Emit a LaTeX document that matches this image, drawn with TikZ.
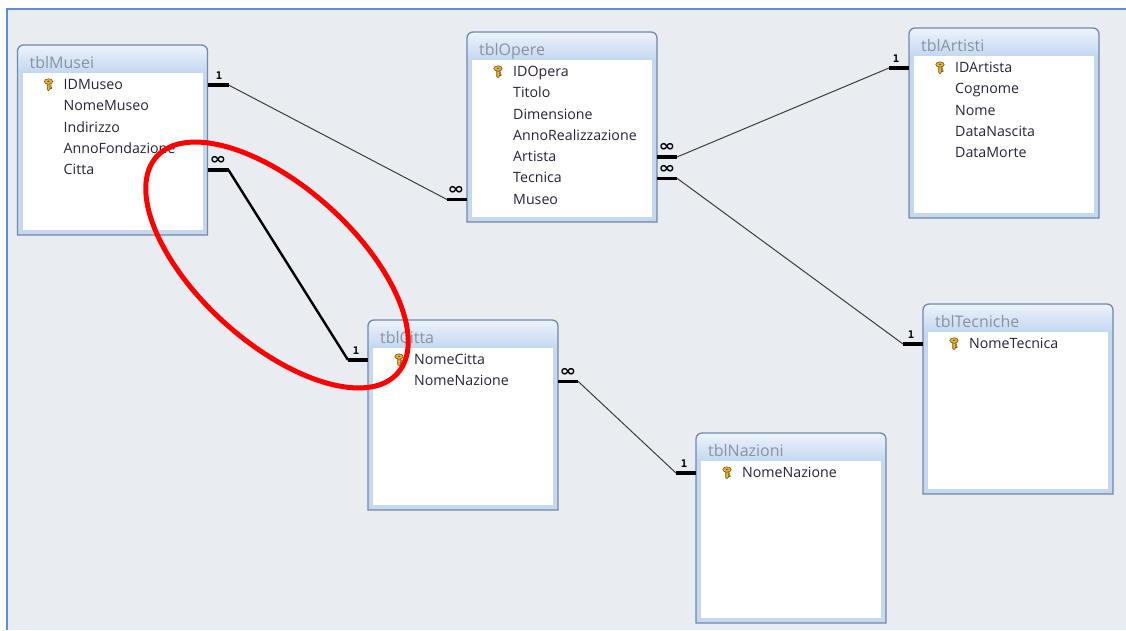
\documentclass[tikz,border=0pt]{standalone}
\usepackage{fontspec}
\newfontfamily\uifont{Open Sans}
\newfontfamily\symfont{DejaVu Sans}
\newfontfamily\labelfont{DejaVu Sans Mono}
\usetikzlibrary{calc}
\definecolor{frameblue}{HTML}{5B8FD8}
\definecolor{canvasbg}{HTML}{E9EDF2}
\definecolor{tblborder}{HTML}{7088AA}
\definecolor{tblband}{HTML}{C6D8F0}
\definecolor{hdrtop}{HTML}{EDF3FB}
\definecolor{hdrbot}{HTML}{C5D8F1}
\definecolor{titlegray}{HTML}{8A93A0}
\definecolor{rowink}{HTML}{2B2236}
\definecolor{keygold}{HTML}{E2B43A}
\definecolor{keyedge}{HTML}{7A5A14}
\definecolor{linkgray}{HTML}{3C3C3C}
\tikzset{
 tblnode/.style={rectangle, minimum width=190pt, minimum height=190pt, inner sep=0, outer sep=0, anchor=north west},
 titletext/.style={anchor=base west, inner sep=0, text=titlegray, font=\uifont\fontsize{16}{16}\selectfont},
 rowtext/.style={anchor=base west, inner sep=0, text=rowink, font=\uifont\fontsize{14.2}{15}\selectfont},
 stub/.style={line width=3.5pt, black},
 thinlink/.style={line width=1pt, linkgray},
 boldlink/.style={line width=2.4pt, black},
 onelabel/.style={font=\labelfont\bfseries\fontsize{10.5}{10.5}\selectfont, inner sep=0, anchor=south},
 manylabel/.style={font=\symfont\bfseries\fontsize{16}{16}\selectfont, inner sep=0, anchor=south, xscale=1.25},
 redring/.style={draw=red, line width=5pt},
}
\newcommand\dbtable[4]{%
 \node[tblnode] (#1) at (#2,#3) {};
 \fill[tblband] (#1.south west) [rounded corners=6pt] -- (#1.north west) -- (#1.north east) [sharp corners] -- (#1.south east) -- cycle;
 \shade[top color=hdrtop, bottom color=hdrbot] ($(#1.north west)+(0,27)$) [rounded corners=6pt] -- (#1.north west) -- (#1.north east) [sharp corners] -- ($(#1.north east)+(0,27)$) -- cycle;
 \fill[white] ($(#1.north west)+(5,28)$) rectangle ($(#1.south east)+(-5,-5)$);
 \draw[tblborder, line width=1.3pt] (#1.south west) [rounded corners=6pt] -- (#1.north west) -- (#1.north east) [sharp corners] -- (#1.south east) -- cycle;
 \node[titletext] (#1title) at ($(#1.north west)+(12,23)$) {#4};
}
\newcommand\dbrow[4]{% table, index, label, row name
 \coordinate (#4) at ($(#1.north west)+(0,{40+21.25*(#2-1)})$);
 \node[rowtext] (#4txt) at ($(#1.north west)+(46,{44.5+21.25*(#2-1)})$) {#3};
}
\newcommand\keyicon[2]{% table, index
 \begin{scope}[shift={($(#1.north west)+(31,{39.5+21.25*(#2-1)})$)}]
  \filldraw[fill=keygold, draw=keyedge, line width=0.6pt] (-1.3,-1) -- (-1.3,5) -- (0,6.3) -- (1.3,5) -- (1.3,4) -- (3,4) -- (3,2.6) -- (1.3,2.6) -- (1.3,1.6) -- (2.6,1.6) -- (2.6,0.3) -- (1.3,0.3) -- (1.3,-1) -- cycle;
  \filldraw[fill=keygold, draw=keyedge, line width=0.6pt] (0,-3) ellipse [x radius=4.2pt, y radius=2.7pt];
  \fill[keyedge] (0,-3.2) ellipse [x radius=1.5pt, y radius=0.8pt];
 \end{scope}}
\begin{document}
\begin{tikzpicture}[x=1pt,y=-1pt]
\useasboundingbox (0,0) rectangle (1126,630);
\fill[white] (0,0) rectangle (1126,630);
\fill[canvasbg] (7,9) rectangle (1126,630);
\draw[frameblue, line width=2pt] (7,630) -- (7,9) -- (1126,9);

% tables
\dbtable{musei}{17.5}{45}{tblMusei}
\keyicon{musei}{1}
\dbrow{musei}{1}{IDMuseo}{mu1}
\dbrow{musei}{2}{NomeMuseo}{mu2}
\dbrow{musei}{3}{Indirizzo}{mu3}
\dbrow{musei}{4}{AnnoFondazione}{mu4}
\dbrow{musei}{5}{Citta}{mu5}

\dbtable{opere}{467}{32}{tblOpere}
\keyicon{opere}{1}
\dbrow{opere}{1}{IDOpera}{op1}
\dbrow{opere}{2}{Titolo}{op2}
\dbrow{opere}{3}{Dimensione}{op3}
\dbrow{opere}{4}{AnnoRealizzazione}{op4}
\dbrow{opere}{5}{Artista}{op5}
\dbrow{opere}{6}{Tecnica}{op6}
\dbrow{opere}{7}{Museo}{op7}

\dbtable{artisti}{909}{28}{tblArtisti}
\keyicon{artisti}{1}
\dbrow{artisti}{1}{IDArtista}{ar1}
\dbrow{artisti}{2}{Cognome}{ar2}
\dbrow{artisti}{3}{Nome}{ar3}
\dbrow{artisti}{4}{DataNascita}{ar4}
\dbrow{artisti}{5}{DataMorte}{ar5}

\dbtable{citta}{368}{320}{tblCitta}
\keyicon{citta}{1}
\dbrow{citta}{1}{NomeCitta}{ci1}
\dbrow{citta}{2}{NomeNazione}{ci2}

\dbtable{tecniche}{923}{304}{tblTecniche}
\keyicon{tecniche}{1}
\dbrow{tecniche}{1}{NomeTecnica}{te1}

\dbtable{nazioni}{696}{433}{tblNazioni}
\keyicon{nazioni}{1}
\dbrow{nazioni}{1}{NomeNazione}{na1}

% relationships
% Musei.IDMuseo (1) -- Opere.Museo (inf)
\draw[stub] (musei.east |- mu1) coordinate (r1a0) -- ++(21,0) coordinate (r1a);
\draw[stub] (opere.west |- op7) coordinate (r1b0) -- ++(-20,0) coordinate (r1b);
\draw[thinlink] (r1a) -- (r1b);
\node[onelabel] (r1al) at ($(r1a0)!0.55!(r1a)+(0,-5)$) {1};
\node[manylabel] (r1bl) at ($(r1b0)!0.55!(r1b)+(0,-5)$) {∞};

% Musei.Citta (inf) -- Citta.NomeCitta (1)
\draw[stub] (musei.east |- mu5) coordinate (r2a0) -- ++(21,0) coordinate (r2a);
\draw[stub] (citta.west |- ci1) coordinate (r2b0) -- ++(-20,0) coordinate (r2b);
\draw[boldlink] (r2a) -- (r2b);
\node[manylabel] (r2al) at ($(r2a0)!0.5!(r2a)+(0,-5)$) {∞};
\node[onelabel] (r2bl) at ($(r2b0)!0.6!(r2b)+(0,-5)$) {1};

% Opere.Artista (inf) -- Artisti.IDArtista (1)
\draw[stub] (opere.east |- op5) coordinate (r3a0) -- ++(20,0) coordinate (r3a);
\draw[stub] (artisti.west |- ar1) coordinate (r3b0) -- ++(-20,0) coordinate (r3b);
\draw[thinlink] (r3a) -- (r3b);
\node[manylabel] (r3al) at ($(r3a0)!0.5!(r3a)+(0,-5)$) {∞};
\node[onelabel] (r3bl) at ($(r3b0)!0.65!(r3b)+(0,-5)$) {1};

% Opere.Tecnica (inf) -- Tecniche.NomeTecnica (1)
\draw[stub] (opere.east |- op6) coordinate (r4a0) -- ++(20,0) coordinate (r4a);
\draw[stub] (tecniche.west |- te1) coordinate (r4b0) -- ++(-20,0) coordinate (r4b);
\draw[thinlink] (r4a) -- (r4b);
\node[manylabel] (r4al) at ($(r4a0)!0.5!(r4a)+(0,-5)$) {∞};
\node[onelabel] (r4bl) at ($(r4b0)!0.6!(r4b)+(0,-5)$) {1};

% Citta.NomeNazione (inf) -- Nazioni.NomeNazione (1)
\draw[stub] (citta.east |- ci2) coordinate (r5a0) -- ++(20,0) coordinate (r5a);
\draw[stub] (nazioni.west |- na1) coordinate (r5b0) -- ++(-20,0) coordinate (r5b);
\draw[thinlink] (r5a) -- (r5b);
\node[manylabel] (r5al) at ($(r5a0)!0.5!(r5a)+(0,-5)$) {∞};
\node[onelabel] (r5bl) at ($(r5b0)!0.6!(r5b)+(0,-5)$) {1};

% red highlight
\draw[redring, rotate around={-42:(277,265)}] (277,265) ellipse [x radius=162pt, y radius=78pt];
\end{tikzpicture}
\end{document}
